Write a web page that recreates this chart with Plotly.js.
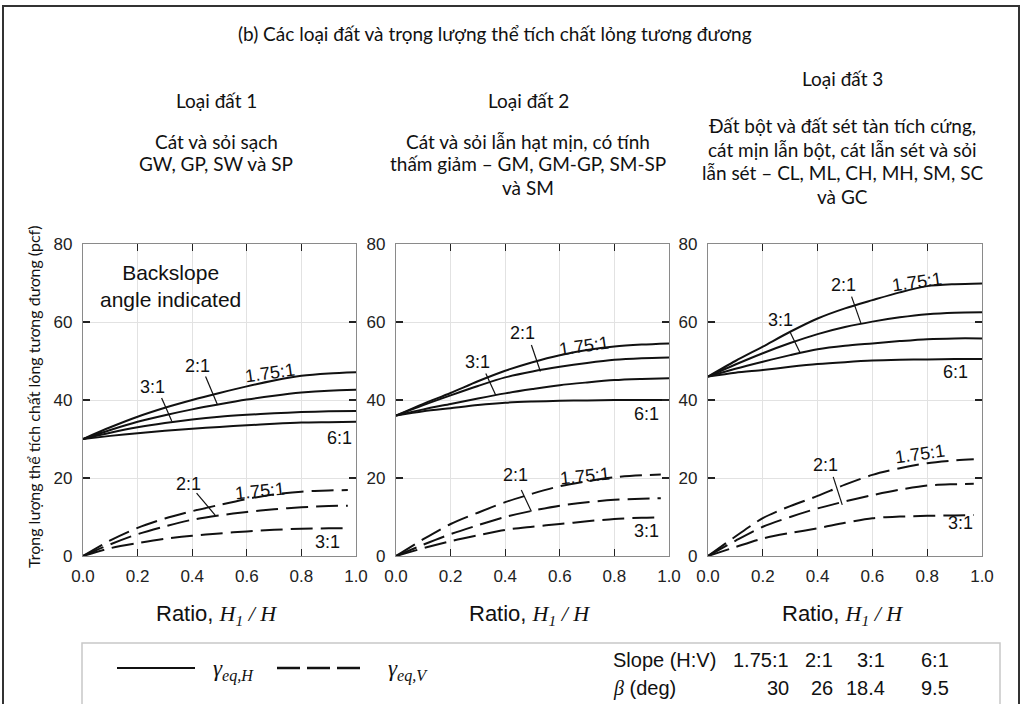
<!DOCTYPE html>
<html>
<head>
<meta charset="utf-8">
<script src="https://cdn.plot.ly/plotly-3.0.1.min.js"></script>
<style>html,body{margin:0;padding:0;background:#fff;}#chart{width:1024px;height:704px;}</style>
</head>
<body>
<div id="chart"></div>
<script>
// ---------- DATA ----------
const ratioSolid = [0, 0.1, 0.2, 0.3, 0.4, 0.5, 0.6, 0.7, 0.8, 0.9, 1.0];
const ratioDashed = [0, 0.1, 0.2, 0.3, 0.4, 0.5, 0.6, 0.7, 0.8, 0.9, 0.97];

const slopeNames = ["1.75:1", "2:1", "3:1", "6:1"];
const betaDeg = ["30", "26", "18.4", "9.5"];

// Soil type 1 — gamma_eq,H (solid)
const s1_H_175 = [30, 33.0, 35.7, 38.0, 40.0, 41.8, 43.5, 45.0, 46.2, 46.8, 47.1];
const s1_H_2   = [30, 32.3, 34.4, 36.1, 37.6, 38.9, 40.1, 41.1, 41.9, 42.4, 42.6];
const s1_H_3   = [30, 31.6, 33.0, 34.1, 35.0, 35.7, 36.2, 36.6, 36.9, 37.1, 37.2];
const s1_H_6   = [30, 30.8, 31.5, 32.1, 32.6, 33.1, 33.5, 33.9, 34.2, 34.3, 34.4];
// Soil type 1 — gamma_eq,V (dashed)
const s1_V_175 = [0, 4.0, 7.2, 9.6, 11.5, 13.1, 14.6, 15.8, 16.5, 16.8, 16.9];
const s1_V_2   = [0, 3.0, 5.6, 7.6, 9.3, 10.4, 11.3, 12.0, 12.5, 12.8, 12.9];
const s1_V_3   = [0, 2.0, 3.3, 4.4, 5.2, 5.8, 6.3, 6.7, 7.0, 7.1, 7.1];

// Soil type 2
const s2_H_175 = [36, 39.0, 41.8, 44.8, 47.5, 49.7, 51.5, 52.8, 53.7, 54.2, 54.5];
const s2_H_2   = [36, 38.7, 41.2, 43.6, 45.8, 47.3, 48.5, 49.5, 50.3, 50.7, 50.9];
const s2_H_3   = [36, 37.6, 39.0, 40.4, 41.7, 42.8, 43.8, 44.5, 45.1, 45.4, 45.6];
const s2_H_6   = [36, 37.1, 37.9, 38.7, 39.3, 39.6, 39.8, 39.9, 40.0, 40.0, 40.0];
const s2_V_175 = [0, 4.3, 8.2, 11.1, 13.8, 16.0, 17.9, 19.2, 20.2, 20.7, 20.9];
const s2_V_2   = [0, 2.9, 5.6, 7.9, 10.0, 11.6, 12.9, 13.8, 14.4, 14.7, 14.8];
const s2_V_3   = [0, 2.0, 3.8, 5.3, 6.7, 7.5, 8.2, 8.9, 9.5, 9.8, 9.9];

// Soil type 3
const s3_H_175 = [46, 50.0, 53.7, 57.5, 60.9, 63.5, 65.6, 67.6, 69.2, 69.7, 69.9];
const s3_H_2   = [46, 49.1, 52.0, 54.6, 56.9, 58.7, 60.1, 61.2, 62.0, 62.4, 62.5];
const s3_H_3   = [46, 48.0, 49.8, 51.5, 53.0, 53.9, 54.5, 55.1, 55.6, 55.8, 55.8];
const s3_H_6   = [46, 47.0, 47.7, 48.5, 49.2, 49.7, 50.1, 50.3, 50.4, 50.5, 50.5];
const s3_V_175 = [0, 5.0, 9.7, 12.8, 15.4, 18.3, 20.8, 22.5, 23.8, 24.5, 24.8];
const s3_V_2   = [0, 3.9, 7.5, 10.0, 12.2, 14.0, 15.6, 17.0, 18.1, 18.4, 18.5];
const s3_V_3   = [0, 2.3, 4.5, 5.9, 7.1, 8.5, 9.7, 10.1, 10.3, 10.4, 10.5];

const xTickVals = [0, 0.2, 0.4, 0.6, 0.8, 1.0];
const xTickText = ["0.0", "0.2", "0.4", "0.6", "0.8", "1.0"];
const yTickVals = [0, 20, 40, 60, 80];
const yTickText = ["0", "20", "40", "60", "80"];

const mainTitle = "(b) Các loại đất và trọng lượng thể tích chất lỏng tương đương";
const yTitle = "Trọng lượng thể tích chất lỏng tương đương (pcf)";
const panelTitles = ["Loại đất 1", "Loại đất 2", "Loại đất 3"];
const panelDescriptions = [
  ["Cát và sỏi sạch", "GW, GP, SW và SP"],
  ["Cát và sỏi lẫn hạt mịn, có tính", "thấm giảm – GM, GM-GP, SM-SP", "và SM"],
  ["Đất bột và đất sét tàn tích cứng,", "cát mịn lẫn bột, cát lẫn sét và sỏi", "lẫn sét – CL, ML, CH, MH, SM, SC", "và GC"]
];

// ---------- BUILD ----------
const W = 1024, H = 704;
const px = v => v / W;
const py = v => 1 - v / H;

const panels = [
  {H: [s1_H_175, s1_H_2, s1_H_3, s1_H_6], V: [s1_V_175, s1_V_2, s1_V_3], dom: [83, 356]},
  {H: [s2_H_175, s2_H_2, s2_H_3, s2_H_6], V: [s2_V_175, s2_V_2, s2_V_3], dom: [396, 669]},
  {H: [s3_H_175, s3_H_2, s3_H_3, s3_H_6], V: [s3_V_175, s3_V_2, s3_V_3], dom: [708, 982]}
];

const traces = [];
const layout = {
  width: W, height: H,
  margin: {l: 0, r: 0, t: 0, b: 0},
  paper_bgcolor: "#ffffff", plot_bgcolor: "#ffffff",
  showlegend: false,
  annotations: [], shapes: []
};

const tickFont = {family: "Liberation Sans, Arial, sans-serif", size: 17, color: "#222"};
const labFont = {family: "Liberation Sans, Arial, sans-serif", size: 18, color: "#111"};
const hdrFont = {family: "Lato, sans-serif", size: 19, color: "#111"};

function pann(x, y, text, font, opts) {
  layout.annotations.push(Object.assign({xref: "paper", yref: "paper", x: px(x), y: py(y),
    xanchor: "center", yanchor: "middle", showarrow: false, text: text, font: font}, opts || {}));
}

panels.forEach((p, i) => {
  const n = i + 1;
  const xa = n === 1 ? "x" : "x" + n;
  const ya = n === 1 ? "y" : "y" + n;
  p.H.forEach(arr => traces.push({
    x: ratioSolid, y: arr, xaxis: xa, yaxis: ya, type: "scatter", mode: "lines",
    line: {color: "#111", width: 2, shape: "spline", smoothing: 0.8}, hoverinfo: "skip"
  }));
  p.V.forEach(arr => traces.push({
    x: ratioDashed, y: arr, xaxis: xa, yaxis: ya, type: "scatter", mode: "lines",
    line: {color: "#111", width: 2, dash: "22px,8px", shape: "spline", smoothing: 0.8}, hoverinfo: "skip"
  }));
  const common = {
    showgrid: true, gridcolor: "#e2e2e2", gridwidth: 1,
    showline: true, linecolor: "#8a8a8a", linewidth: 1.2, mirror: "allticks",
    ticks: "inside", ticklen: 7, tickwidth: 1.3, tickcolor: "#222",
    tickfont: tickFont, zeroline: false, fixedrange: true
  };
  layout["xaxis" + (n === 1 ? "" : n)] = Object.assign({}, common, {
    domain: [px(p.dom[0]), px(p.dom[1])], range: [0, 1], anchor: ya,
    tickvals: xTickVals, ticktext: xTickText, ticklabelstandoff: 4
  });
  layout["yaxis" + (n === 1 ? "" : n)] = Object.assign({}, common, {
    domain: [py(556), py(244)], range: [0, 80], anchor: xa,
    tickvals: yTickVals, ticktext: yTickText, ticklabelstandoff: 6
  });
  // x-axis title
  const cx = (p.dom[0] + p.dom[1]) / 2;
  pann(cx - 3, 615,
    "Ratio, <span style=\"font-family:'Liberation Serif',serif;font-style:italic\">H<sub>1</sub> / H</span>",
    {family: "Liberation Sans, Arial, sans-serif", size: 22, color: "#111"});
});

// headers
pann(495, 33, mainTitle, hdrFont);
const hdrX = [216, 528, 842];
const hdrTitleY = [100, 100, 79];
const hdrDescY = [[141, 164], [141, 164, 187], [126, 149, 172, 197]];
panelTitles.forEach((t, i) => {
  pann(hdrX[i], hdrTitleY[i], t, hdrFont);
  panelDescriptions[i].forEach((line, j) => pann(hdrX[i], hdrDescY[i][j], line, hdrFont));
});
// y-axis title
pann(33, 397, yTitle, {family: "Lato, sans-serif", size: 16, color: "#111"}, {textangle: -90});

// curve labels (in data coordinates)
function lab(n, x, y, t, ang) {
  layout.annotations.push({xref: n === 1 ? "x" : "x" + n, yref: n === 1 ? "y" : "y" + n,
    x: x, y: y, xanchor: "center", yanchor: "middle",
    text: t, showarrow: false, textangle: ang || 0, font: labFont});
}
function lead(n, x0, y0, x1, y1) {
  layout.shapes.push({type: "line", xref: n === 1 ? "x" : "x" + n, yref: n === 1 ? "y" : "y" + n,
    x0: x0, y0: y0, x1: x1, y1: y1, line: {color: "#111", width: 1.2}});
}
layout.annotations.push({xref: "x", yref: "y", x: 0.319, y: 69.2, xanchor: "center", yanchor: "middle", showarrow: false,
  text: "Backslope<br>angle indicated", font: {family: "Liberation Sans, Arial, sans-serif", size: 21, color: "#111"}});

// panel 1
lab(1, 0.256, 43.3, slopeNames[2]); lead(1, 0.288, 40.5, 0.325, 34.6);
lab(1, 0.418, 48.7, slopeNames[1]); lead(1, 0.449, 46.0, 0.493, 38.7);
lab(1, 0.685, 46.9, slopeNames[0], -8);
lab(1, 0.941, 30.3, slopeNames[3]);
lab(1, 0.388, 18.5, slopeNames[1]); lead(1, 0.416, 16.1, 0.484, 10.5);
lab(1, 0.648, 16.7, slopeNames[0], -6);
lab(1, 0.897, 3.6, slopeNames[2]);
// panel 2
lab(2, 0.465, 57.2, slopeNames[1]); lead(2, 0.496, 54.1, 0.529, 47.3);
lab(2, 0.297, 49.7, slopeNames[2]); lead(2, 0.329, 46.8, 0.365, 41.3);
lab(2, 0.689, 53.8, slopeNames[0], -8);
lab(2, 0.919, 36.4, slopeNames[3]);
lab(2, 0.436, 20.8, slopeNames[1]); lead(2, 0.459, 16.9, 0.496, 11.4);
lab(2, 0.692, 20.5, slopeNames[0], -6);
lab(2, 0.916, 6.4, slopeNames[2]);
// panel 3
lab(3, 0.493, 69.5, slopeNames[1]); lead(3, 0.524, 66.5, 0.558, 59.7);
lab(3, 0.263, 60.5, slopeNames[2]); lead(3, 0.299, 57.5, 0.336, 52.1);
lab(3, 0.763, 70.3, slopeNames[0], -8);
lab(3, 0.905, 47.2, slopeNames[3]);
lab(3, 0.427, 23.3, slopeNames[1]); lead(3, 0.457, 20.3, 0.490, 13.1);
lab(3, 0.774, 26.2, slopeNames[0], -8);
lab(3, 0.920, 8.5, slopeNames[2]);

// outer frame
layout.shapes.push({type: "rect", xref: "paper", yref: "paper", x0: px(3), x1: px(1019), y0: -0.05, y1: py(6),
  line: {color: "#333", width: 2}, fillcolor: "rgba(0,0,0,0)"});
// legend box
layout.shapes.push({type: "rect", xref: "paper", yref: "paper", x0: px(82), x1: px(1000), y0: -0.05, y1: py(643),
  line: {color: "#c8c8c8", width: 1.5}, fillcolor: "rgba(0,0,0,0)"});
layout.shapes.push({type: "line", xref: "paper", yref: "paper", x0: px(117), x1: px(195), y0: py(668), y1: py(668),
  line: {color: "#111", width: 2}});
layout.shapes.push({type: "line", xref: "paper", yref: "paper", x0: px(277), x1: px(360), y0: py(668), y1: py(668),
  line: {color: "#111", width: 2.5, dash: "23px,7px"}});
const gFont = {family: "Liberation Serif, serif", size: 23, color: "#111"};
pann(211, 670, "<i>γ<sub>eq,H</sub></i>", gFont, {xanchor: "left"});
pann(386, 670, "<i>γ<sub>eq,V</sub></i>", gFont, {xanchor: "left"});
// slope table
const tFont = {family: "Liberation Sans, Arial, sans-serif", size: 20, color: "#111"};
pann(611, 660, "Slope (H:V)", tFont, {xanchor: "left"});
pann(611, 688, "<span style=\"font-family:'Liberation Serif',serif;font-style:italic\">β</span> (deg)", tFont, {xanchor: "left"});
const colRight = [791, 835, 887, 951];
slopeNames.forEach((s, i) => {
  pann(colRight[i], 660, s, tFont, {xanchor: "right"});
  pann(colRight[i], 688, betaDeg[i], tFont, {xanchor: "right"});
});

Plotly.newPlot("chart", traces, layout, {displayModeBar: false, staticPlot: true});
</script>
</body>
</html>
